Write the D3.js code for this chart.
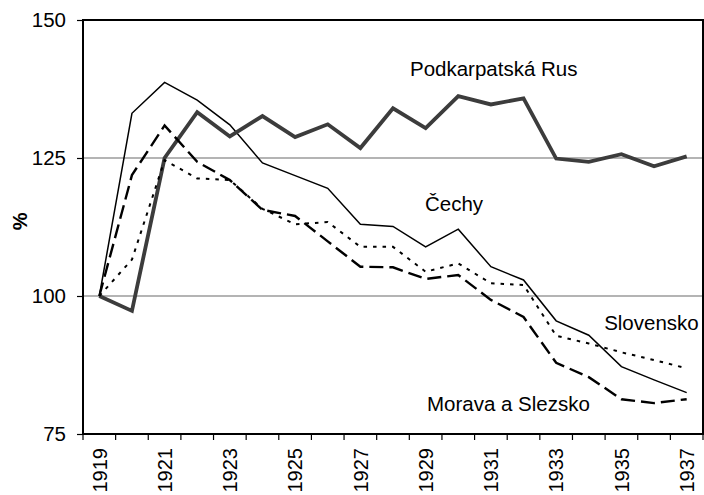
<!DOCTYPE html>
<html>
<head>
<meta charset="utf-8">
<script src="https://cdn.jsdelivr.net/npm/d3@7"></script>
<style>
  html, body { margin: 0; padding: 0; background: #fff; }
  svg { display: block; font-family: "Liberation Sans", Arial, sans-serif; }
</style>
</head>
<body>
<svg id="chart" width="704" height="495"></svg>
<script>
const years = d3.range(1919, 1938);
const labelYears = years.filter(y => (y - 1919) % 2 === 0);
const yTicks = [75, 100, 125, 150];
const gridValues = [100, 125];

const cechy  = [100, 133.1, 138.7, 135.5, 131.0, 124.1, 121.8, 119.5, 113.0, 112.6, 108.9, 112.1, 105.3, 102.9, 95.5, 92.9, 87.2, 84.8, 82.5];
const podk   = [100, 97.3, 125.0, 133.3, 128.9, 132.6, 128.8, 131.1, 126.8, 134.0, 130.4, 136.2, 134.7, 135.8, 124.9, 124.3, 125.7, 123.5, 125.3];
const morava = [100, 121.9, 130.9, 124.3, 121.0, 115.6, 114.5, 109.9, 105.3, 105.2, 103.1, 103.8, 99.3, 96.2, 87.9, 85.3, 81.3, 80.6, 81.3];
const slov   = [100, 106.6, 124.6, 121.3, 121.0, 115.8, 113.0, 113.4, 108.9, 108.9, 104.4, 105.9, 102.3, 102.0, 92.8, 91.4, 89.8, 88.4, 86.9];

const seriesNames = ["Čechy", "Podkarpatská Rus", "Morava a Slezsko", "Slovensko"];
// label anchors in data units: [year, value]
const labelAnchors = [[1928.98, 115.4], [1928.52, 139.9], [1929.04, 79.2], [1934.47, 93.8]];

const svg = d3.select("#chart");
const m = { left: 83, top: 20, right: 1, bottom: 61 };
const W = 704, H = 495;
const x = d3.scaleBand().domain(years).range([m.left, W - m.right]).padding(0);
const bw = x.bandwidth();
const cx = d => x(d) + bw / 2;
const y = d3.scaleLinear().domain([75, 150]).range([H - m.bottom, m.top]);
const xl = d3.scaleLinear().domain([1919, 1937]).range([cx(1919), cx(1937)]);

// gridlines
svg.append("g").selectAll("line").data(gridValues).join("line")
  .attr("x1", m.left).attr("x2", W - m.right)
  .attr("y1", d => y(d)).attr("y2", d => y(d))
  .attr("stroke", "#6a6a6a").attr("stroke-width", 1.2);

// y axis
const yAxis = svg.append("g").attr("transform", `translate(${m.left},0)`)
  .call(d3.axisLeft(y).tickValues(yTicks).tickSize(6).tickPadding(11).tickSizeOuter(0));
yAxis.select(".domain").remove();
yAxis.selectAll(".tick line").attr("stroke", "#000").attr("stroke-width", 1.2);
yAxis.selectAll("text").attr("font-size", 20.5).attr("fill", "#000")
  .attr("font-family", "Liberation Sans, Arial, sans-serif");

// x axis labels
const xAxis = svg.append("g").attr("transform", `translate(0,${y(75)})`)
  .call(d3.axisBottom(x).tickValues(labelYears).tickSize(0).tickPadding(0));
xAxis.select(".domain").remove();
xAxis.selectAll("text")
  .attr("font-size", 20).attr("fill", "#000")
  .attr("font-family", "Liberation Sans, Arial, sans-serif")
  .attr("transform", "rotate(-90)")
  .attr("text-anchor", "end")
  .attr("x", -14).attr("y", 0).attr("dy", "0.36em");

// x tick marks at band boundaries
const bounds = years.map(d => x(d)).concat([x.range()[1]]);
svg.append("g").selectAll("line").data(bounds).join("line")
  .attr("x1", d => d).attr("x2", d => d)
  .attr("y1", y(75)).attr("y2", y(75) + 6)
  .attr("stroke", "#000").attr("stroke-width", 1.2);

// series
const line = d3.line().x((d, i) => cx(years[i])).y(d => y(d));
const styles = [
  { data: cechy,  stroke: "#000", width: 1.5, dash: null },
  { data: podk,   stroke: "#3c3c3c", width: 3.8, dash: null },
  { data: morava, stroke: "#000", width: 2.4, dash: "14,6" },
  { data: slov,   stroke: "#000", width: 2, dash: "3.5,6" }
];
svg.append("g").selectAll("path").data(styles).join("path")
  .attr("d", s => line(s.data))
  .attr("fill", "none")
  .attr("stroke", s => s.stroke)
  .attr("stroke-width", s => s.width)
  .attr("stroke-dasharray", s => s.dash)
  .attr("stroke-linejoin", "miter");

// plot border
svg.append("rect")
  .attr("x", m.left).attr("y", m.top)
  .attr("width", W - m.right - m.left).attr("height", y(75) - m.top)
  .attr("fill", "none").attr("stroke", "#000").attr("stroke-width", 2);

// series labels
svg.append("g").selectAll("text").data(seriesNames).join("text")
  .attr("x", (d, i) => xl(labelAnchors[i][0]))
  .attr("y", (d, i) => y(labelAnchors[i][1]))
  .attr("font-size", 20.5).attr("fill", "#000")
  .text(d => d);

// y title
svg.append("text")
  .attr("transform", `translate(27,${y(113.5)}) rotate(-90)`)
  .attr("text-anchor", "middle")
  .attr("font-size", 20).attr("font-weight", "bold")
  .text("%");
</script>
</body>
</html>
